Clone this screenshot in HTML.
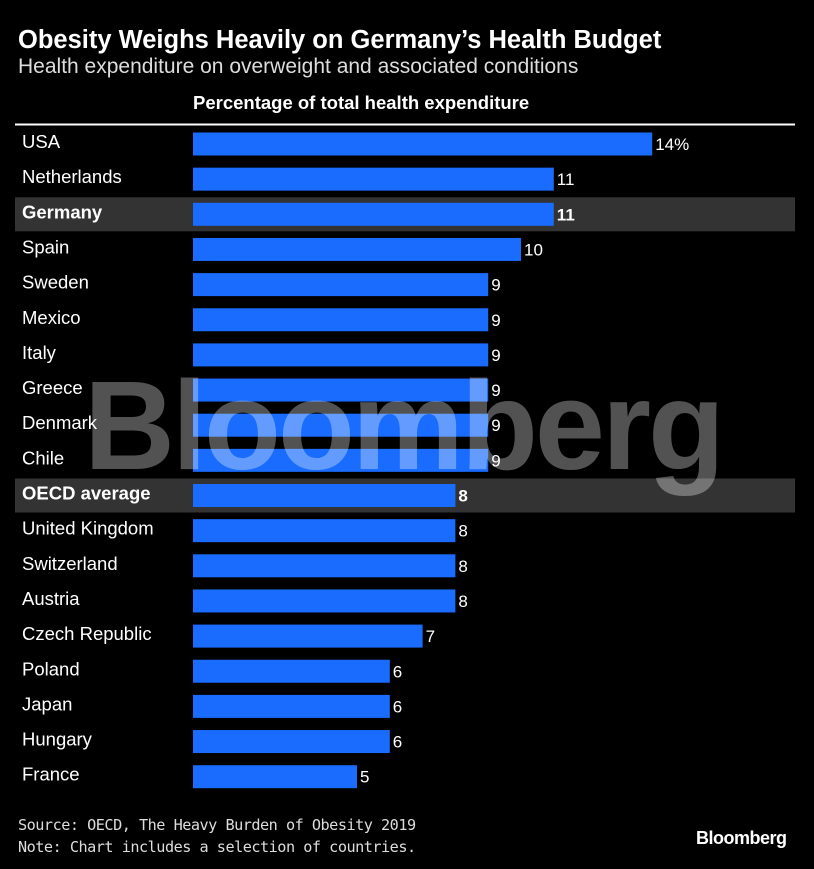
<!DOCTYPE html>
<html><head><meta charset="utf-8">
<style>
body{margin:0;background:#000;width:814px;height:869px;overflow:hidden;font-family:"Liberation Sans",sans-serif;color:#fff;position:relative}
.t{position:absolute;white-space:nowrap}
</style></head><body>
<div class="t" style="left:18px;top:26px;font-size:25.5px;font-weight:bold">Obesity Weighs Heavily on Germany’s Health Budget</div>
<div class="t" style="left:18px;top:55px;font-size:21px;color:#ddd">Health expenditure on overweight and associated conditions</div>
<div class="t" style="left:193px;top:92px;font-size:18.5px;font-weight:bold">Percentage of total health expenditure</div>
<svg id="chart" width="814" height="869" style="position:absolute;left:0;top:0"></svg>
<div class="t" style="left:18px;top:814px;font-size:15.2px;line-height:22px;font-family:'DejaVu Sans Mono','Liberation Mono',monospace;color:#ddd;letter-spacing:-0.5px">Source: OECD, The Heavy Burden of Obesity 2019<br>Note: Chart includes a selection of countries.</div>
<div class="t" style="left:696px;top:828px;font-size:18px;font-weight:bold;letter-spacing:-0.5px">Bloomberg</div>
<script>
const categories=["USA","Netherlands","Germany","Spain","Sweden","Mexico","Italy","Greece","Denmark","Chile","OECD average","United Kingdom","Switzerland","Austria","Czech Republic","Poland","Japan","Hungary","France"];
const values=[14,11,11,10,9,9,9,9,9,9,8,8,8,8,7,6,6,6,5];
const highlighted=["Germany","OECD average"];
const svg=document.getElementById('chart');
const NS='http://www.w3.org/2000/svg';
const x0=193,unit=32.8,top0=144,step=35.15;
const xs=v=>v*unit;
const yc=i=>top0+i*step;
function mk(t,a){const e=document.createElementNS(NS,t);for(const k in a)e.setAttribute(k,a[k]);svg.appendChild(e);return e;}
const ln=mk('line',{x1:15,x2:795,y1:124.5,y2:124.5,stroke:'#fff','stroke-width':2});


categories.forEach((c,i)=>{
  const hi=highlighted.includes(c);
  const y=yc(i);
  if(hi){const r=mk('rect',{x:15,y:y-17,width:780,height:34,fill:'#333'});
    
    }
  const b=mk('rect',{x:x0,y:y-11.5,width:xs(values[i]),height:23,fill:'#1a6cff'});
  
  
  const l=mk('text',{x:22,y:y+4,'font-size':18.5,fill:'#fff','font-weight':hi?'bold':'normal','font-family':'Liberation Sans'});
  l.textContent=c;
  
  
  const v=mk('text',{x:x0+xs(values[i])+3,y:y+6,'font-size':17,fill:'#fff','font-weight':hi?'bold':'normal','font-family':'Liberation Sans'});
  v.textContent=values[i]+(i===0?'%':'');
  
  
});
const w=mk('text',{x:84,y:469,'font-size':126,'font-weight':'bold',fill:'#fff','fill-opacity':0.32,'font-family':'Liberation Sans','letter-spacing':-3,stroke:'#fff','stroke-opacity':0.0});
w.textContent='Bloomberg';


</script>
</body></html>
